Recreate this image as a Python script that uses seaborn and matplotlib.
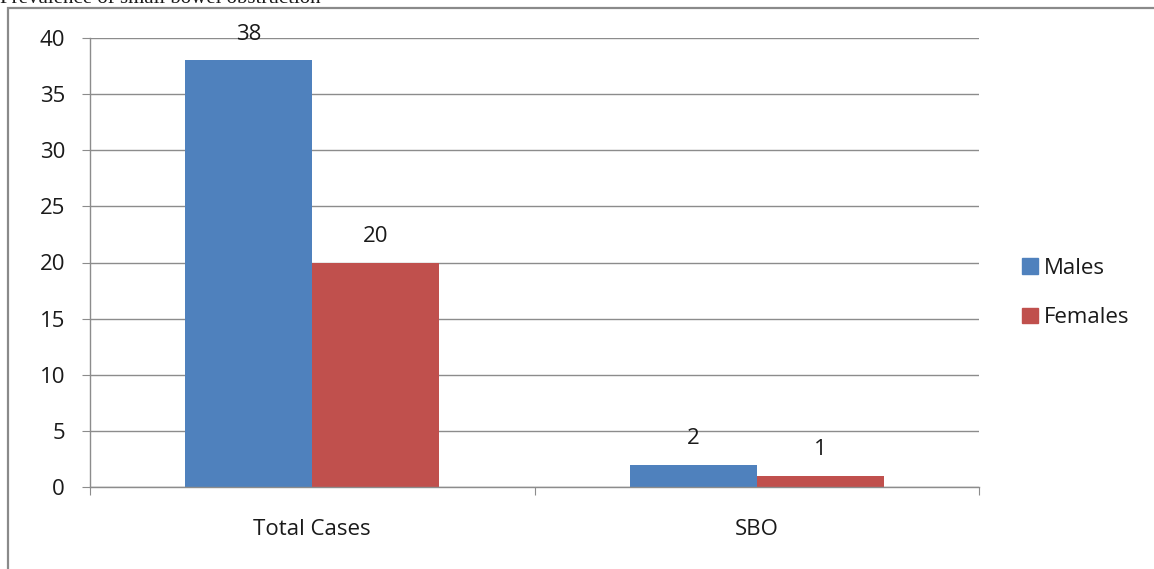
import matplotlib
matplotlib.use('Agg')
import matplotlib.pyplot as plt
import matplotlib.patches as mpatches
import seaborn as sns
import pandas as pd

# Data
categories = ["Total Cases", "SBO"]
males = [38, 2]
females = [20, 1]
series_names = ["Males", "Females"]
colors = ["#4F81BD", "#C0504D"]

df = pd.DataFrame({
    "category": categories * 2,
    "sex": [series_names[0]] * 2 + [series_names[1]] * 2,
    "count": males + females,
})

sns.set_style("white")
plt.rcParams['font.family'] = ['Open Sans', 'DejaVu Sans']
plt.rcParams['text.color'] = '#1a1a1a'
plt.rcParams['xtick.labelcolor'] = '#1a1a1a'
plt.rcParams['ytick.labelcolor'] = '#1a1a1a'
FS = 16

W, H = 1154, 569
fig = plt.figure(figsize=(W / 100, H / 100), dpi=100)

# outer chart frame (runs off the right and bottom of the image)
frame = mpatches.Rectangle((8 / W, -0.2), 1.2, (H - 8) / H + 0.2,
                           transform=fig.transFigure, fill=False,
                           edgecolor="#8a8a8a", linewidth=1.6)
fig.patches.append(frame)

# caption at the very top, partly cut off as in the source
fig.text(0, 1 - 3 / H, "Prevalence of small bowel obstruction",
         family="Liberation Serif", fontsize=15, va="baseline", ha="left")

ax = fig.add_axes([90 / W, (H - 487) / H, 889 / W, 449 / H])
sns.barplot(data=df, x="category", y="count", hue="sex", order=categories,
            hue_order=series_names, palette=colors, width=0.572,
            saturation=1, linewidth=0, ax=ax, legend=False)

ax.set_xlim(-0.5, 1.5)
ax.set_ylim(0, 40)
ax.set_yticks(range(0, 41, 5))
ax.yaxis.grid(True, color="#8c8c8c", linewidth=1)
ax.set_axisbelow(True)
for s in ["top", "right"]:
    ax.spines[s].set_visible(False)
for s in ["left", "bottom"]:
    ax.spines[s].set_color("#8c8c8c")
    ax.spines[s].set_linewidth(1)

ax.set_xticks([-0.5, 0.5, 1.5])
ax.set_xticklabels([])
ax.set_xticks([0, 1], minor=True)
ax.set_xticklabels(categories, minor=True)
ax.tick_params(axis="x", which="major", direction="out", length=6,
               color="#8c8c8c", bottom=True)
ax.tick_params(axis="x", which="minor", length=0, pad=23, labelsize=FS,
               bottom=True)
ax.tick_params(axis="y", direction="out", length=6, color="#8c8c8c",
               pad=12, labelsize=FS, left=True)
ax.set_xlabel("")
ax.set_ylabel("")

for cont in ax.containers:
    ax.bar_label(cont, padding=11, fontsize=FS)

handles = [mpatches.Patch(color=c, label=n) for c, n in zip(colors, series_names)]
fig.legend(handles=handles, loc="center left",
           bbox_to_anchor=(1002 / W, (H - 293) / H), frameon=False,
           fontsize=FS, handlelength=0.7, handleheight=0.7,
           handletextpad=0.3, labelspacing=1.27)

fig.savefig("out.png", dpi=100)
